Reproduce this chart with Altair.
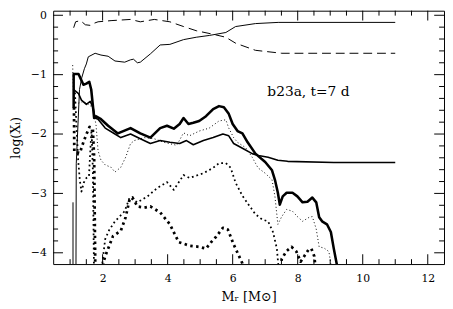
import altair as alt
import pandas as pd

# ---------------- data ----------------
thin_x = [1.18, 1.19, 1.29, 1.36, 1.44, 1.50, 1.56, 1.77, 1.95, 2.17, 2.38, 2.68, 2.86, 2.95,
          3.07, 3.16, 3.47, 3.77, 4.07, 4.49, 4.88, 5.28, 5.79, 6.09, 6.70, 7.40, 11.0]
thin_y = [-4.5, -2.5, -1.25, -1.05, -0.90, -0.82, -0.70, -0.64, -0.67, -0.69, -0.77, -0.79, -0.75, -0.74,
          -0.80, -0.79, -0.65, -0.50, -0.49, -0.41, -0.37, -0.34, -0.29, -0.19, -0.14, -0.12, -0.12]

inner_x = [1.09, 1.09]
inner_y = [-4.5, -3.15]

dash_x = [1.11, 1.17, 1.32, 1.47, 1.62, 1.71, 1.86, 2.26, 2.86, 3.16, 3.59, 4.07, 4.49, 4.88,
          5.40, 5.79, 6.09, 6.70, 7.51, 11.0]
dash_y = [-0.21, -0.11, -0.09, -0.16, -0.17, -0.14, -0.11, -0.09, -0.07, -0.11, -0.07, -0.11, -0.19, -0.26,
          -0.32, -0.37, -0.47, -0.59, -0.64, -0.64]

thick_x = [1.11, 1.11, 1.26, 1.41, 1.50, 1.59, 1.65, 1.74, 1.80, 1.95, 2.17, 2.47, 2.86, 3.16, 3.47,
           3.77, 3.98, 4.19, 4.37, 4.49, 4.64, 4.79, 4.97, 5.18, 5.40, 5.58, 5.73, 5.88, 6.00, 6.15,
           6.30, 6.46, 6.70, 7.00, 7.21, 7.30, 7.39, 7.45, 7.54, 7.66, 7.84, 7.99, 8.15, 8.30, 8.45,
           8.57, 8.66, 8.75, 8.90, 9.02, 9.11, 9.24]
thick_y = [-1.56, -0.99, -0.99, -1.17, -1.15, -1.12, -1.25, -1.73, -1.70, -1.75, -1.86, -1.99, -1.90, -1.99, -2.06,
           -1.90, -1.86, -1.91, -1.83, -1.73, -1.83, -1.81, -1.78, -1.70, -1.58, -1.53, -1.55, -1.66, -1.83, -1.95,
           -1.99, -2.14, -2.33, -2.47, -2.61, -2.77, -2.99, -3.19, -3.05, -2.99, -2.99, -3.05, -3.15, -3.14, -3.07,
           -3.15, -3.40, -3.47, -3.52, -3.65, -3.93, -4.30]

med_x = [1.11, 1.26, 1.35, 1.50, 1.62, 1.71, 1.77, 1.86, 2.08, 2.38, 2.56, 2.86, 3.16, 3.47, 3.77,
         4.07, 4.37, 4.58, 4.79, 5.10, 5.40, 5.70, 5.88, 6.03, 6.30, 6.60, 6.79, 7.09, 7.39, 7.69,
         9.11, 11.0]
med_y = [-1.25, -1.32, -1.43, -1.50, -1.45, -1.56, -1.73, -1.75, -1.90, -2.00, -2.06, -2.00, -2.08, -2.16, -2.11,
         -2.14, -2.16, -2.11, -2.18, -2.11, -2.06, -2.00, -2.03, -2.16, -2.24, -2.33, -2.36, -2.39, -2.44, -2.46,
         -2.48, -2.48]

tdot_x = [1.08, 1.11, 1.26, 1.41, 1.56, 1.71, 1.80, 1.86, 1.95, 2.08, 2.26, 2.38, 2.56, 2.71, 2.86,
          2.98, 3.28, 3.59, 3.89, 4.28, 4.49, 4.67, 4.97, 5.28, 5.58, 5.79, 5.88, 6.03, 6.15, 6.40,
          6.60, 6.78, 7.00, 7.21, 7.30, 7.39, 7.51, 7.66, 7.84, 7.99, 8.15, 8.36, 8.45, 8.57, 8.66,
          8.81, 8.96, 9.05]
tdot_y = [-0.84, -1.45, -1.48, -1.45, -1.50, -1.56, -1.86, -2.28, -2.44, -2.52, -2.56, -2.64, -2.56, -2.39, -2.16,
          -2.11, -2.06, -2.08, -2.14, -2.19, -1.98, -2.03, -1.95, -1.90, -1.78, -1.76, -1.90, -2.06, -2.14, -2.23,
          -2.39, -2.57, -2.66, -2.77, -3.05, -3.52, -3.39, -3.27, -3.30, -3.39, -3.47, -3.40, -3.39, -3.60, -3.90,
          -3.92, -3.98, -4.30]

mdot_x = [1.15, 1.20, 1.25, 1.30, 1.35, 1.42, 1.50, 1.58, 1.63, 1.66, 1.70, 1.74, 1.96, 1.99, 2.08,
          2.20, 2.38, 2.68, 2.83, 3.07, 3.38, 3.68, 3.98, 4.19, 4.49, 4.67, 5.10, 5.40, 5.58, 5.79,
          5.94, 6.09, 6.30, 6.49, 6.70, 6.91, 7.09, 7.24, 7.36, 7.45]
mdot_y = [-1.30, -1.90, -2.45, -2.78, -2.97, -2.82, -2.74, -2.72, -2.20, -1.92, -2.60, -4.50, -4.50, -4.18, -3.77,
          -3.62, -3.47, -3.30, -3.07, -3.15, -3.05, -2.91, -2.81, -2.94, -2.69, -2.74, -2.66, -2.57, -2.49, -2.49,
          -2.57, -2.82, -3.04, -3.19, -3.35, -3.44, -3.47, -3.65, -3.93, -4.50]

kdot_x = [1.12, 1.13, 1.30, 1.42, 1.52, 1.60, 1.70, 1.74, 1.76, 1.78, 2.00, 2.02, 2.08, 2.32, 2.56,
          2.71, 2.83, 2.92, 3.07, 3.28, 3.47, 3.77, 4.07, 4.34, 4.67, 4.97, 5.18, 5.34, 5.49, 5.70,
          5.85, 5.94, 6.03, 6.15, 6.30, 6.40, 7.42, 7.51, 7.66, 7.81, 7.96, 8.09, 8.21, 8.33, 8.42,
          8.51, 8.60]
kdot_y = [-1.55, -2.30, -2.32, -2.12, -1.98, -1.88, -1.92, -2.40, -3.50, -4.50, -4.50, -4.18, -4.06, -3.72, -3.63,
          -3.40, -3.10, -3.07, -3.22, -3.24, -3.22, -3.32, -3.52, -3.82, -3.88, -3.90, -3.93, -3.82, -3.73, -3.58,
          -3.61, -3.73, -3.86, -4.00, -4.18, -4.50, -4.50, -4.10, -3.97, -3.90, -3.98, -4.15, -4.05, -3.95, -3.93,
          -4.06, -4.50]

x_major = [2, 4, 6, 8, 10, 12]
x_minor = [1.0, 1.5, 2.5, 3.0, 3.5, 4.5, 5.0, 5.5, 6.5, 7.0, 7.5, 8.5, 9.0, 9.5, 10.5, 11.0, 11.5]
y_major = [-4, -3, -2, -1, 0]
y_minor = [-3.8, -3.6, -3.4, -3.2, -2.8, -2.6, -2.4, -2.2, -1.8, -1.6, -1.4, -1.2,
           -0.8, -0.6, -0.4, -0.2]

label_text = "b23a, t=7 d"
label_x = 8.33
label_y = -1.30

# ---------------- layout ----------------
W, H = 398, 258
FONT = "DejaVu Serif"

xscale = alt.Scale(domain=[0.48, 12.5], nice=False, zero=False)
yscale = alt.Scale(domain=[-4.19, 0.077], nice=False, zero=False)
xaxis = alt.Axis(values=x_major, ticks=False, domain=False, grid=False, labelFont=FONT,
                 labelFontSize=11, labelColor="black", labelPadding=9, title="Mᵣ [M⊙]",
                 titleFont=FONT, titleFontSize=13, titleFontWeight="normal", titleColor="black",
                 titlePadding=7, labelFlush=False)
yaxis = alt.Axis(values=y_major, ticks=False, domain=False, grid=False, labelFont=FONT,
                 labelFontSize=11, labelColor="black", labelPadding=7, title="log(Xᵢ)",
                 titleFont=FONT, titleFontSize=13, titleFontWeight="normal", titleColor="black",
                 titlePadding=8, labelFlush=False)


def X(field="x"):
    return alt.X(f"{field}:Q", scale=xscale, axis=xaxis)


def Y(field="y"):
    return alt.Y(f"{field}:Q", scale=yscale, axis=yaxis)


def line(xs, ys, width, dash=None, cap="butt"):
    df = pd.DataFrame({"x": xs, "y": ys, "o": list(range(len(xs)))})
    kw = dict(color="black", strokeWidth=width, clip=True, strokeCap=cap, strokeJoin="round")
    if dash:
        kw["strokeDash"] = dash
    return alt.Chart(df).mark_line(**kw).encode(x=X(), y=Y(), order="o:Q")


def xticks(vals, length):
    df = pd.DataFrame({"x": vals})
    bottom = alt.Chart(df).mark_rule(color="black", strokeWidth=1).encode(
        x=X(), y=alt.value(H), y2=alt.value(H - length))
    top = alt.Chart(df).mark_rule(color="black", strokeWidth=1).encode(
        x=X(), y=alt.value(0), y2=alt.value(length))
    return [bottom, top]


def yticks(vals, length):
    df = pd.DataFrame({"y": vals})
    left = alt.Chart(df).mark_rule(color="black", strokeWidth=1).encode(
        y=Y(), x=alt.value(0), x2=alt.value(length))
    right = alt.Chart(df).mark_rule(color="black", strokeWidth=1).encode(
        y=Y(), x=alt.value(W), x2=alt.value(W - length))
    return [left, right]


layers = [
    line(thin_x, thin_y, 1.0),
    line(inner_x, inner_y, 1.0),
    line(dash_x, dash_y, 1.0, dash=[9, 5]),
    line(thick_x, thick_y, 2.6),
    line(med_x, med_y, 1.6),
    line(tdot_x, tdot_y, 1.0, dash=[1, 2.5]),
    line(mdot_x, mdot_y, 1.8, dash=[1.8, 3]),
    line(kdot_x, kdot_y, 2.8, dash=[2.5, 3.5]),
]
layers += xticks(x_major, 10) + xticks(x_minor, 5) + yticks(y_major, 10) + yticks(y_minor, 5)

text = alt.Chart(pd.DataFrame({"x": [label_x], "y": [label_y], "t": [label_text]})).mark_text(
    font=FONT, fontSize=14, color="black", align="center", baseline="middle"
).encode(x=X(), y=Y(), text="t:N")
layers.append(text)

chart = alt.layer(*layers).properties(
    width=W, height=H,
    autosize=alt.AutoSizeParams(type="none"),
    padding={"left": 46, "top": 0, "right": 1, "bottom": 43},
    background="white",
).configure_view(stroke="black", strokeWidth=1)

chart.save("out.html", embed_options={"renderer": "svg", "actions": False})
